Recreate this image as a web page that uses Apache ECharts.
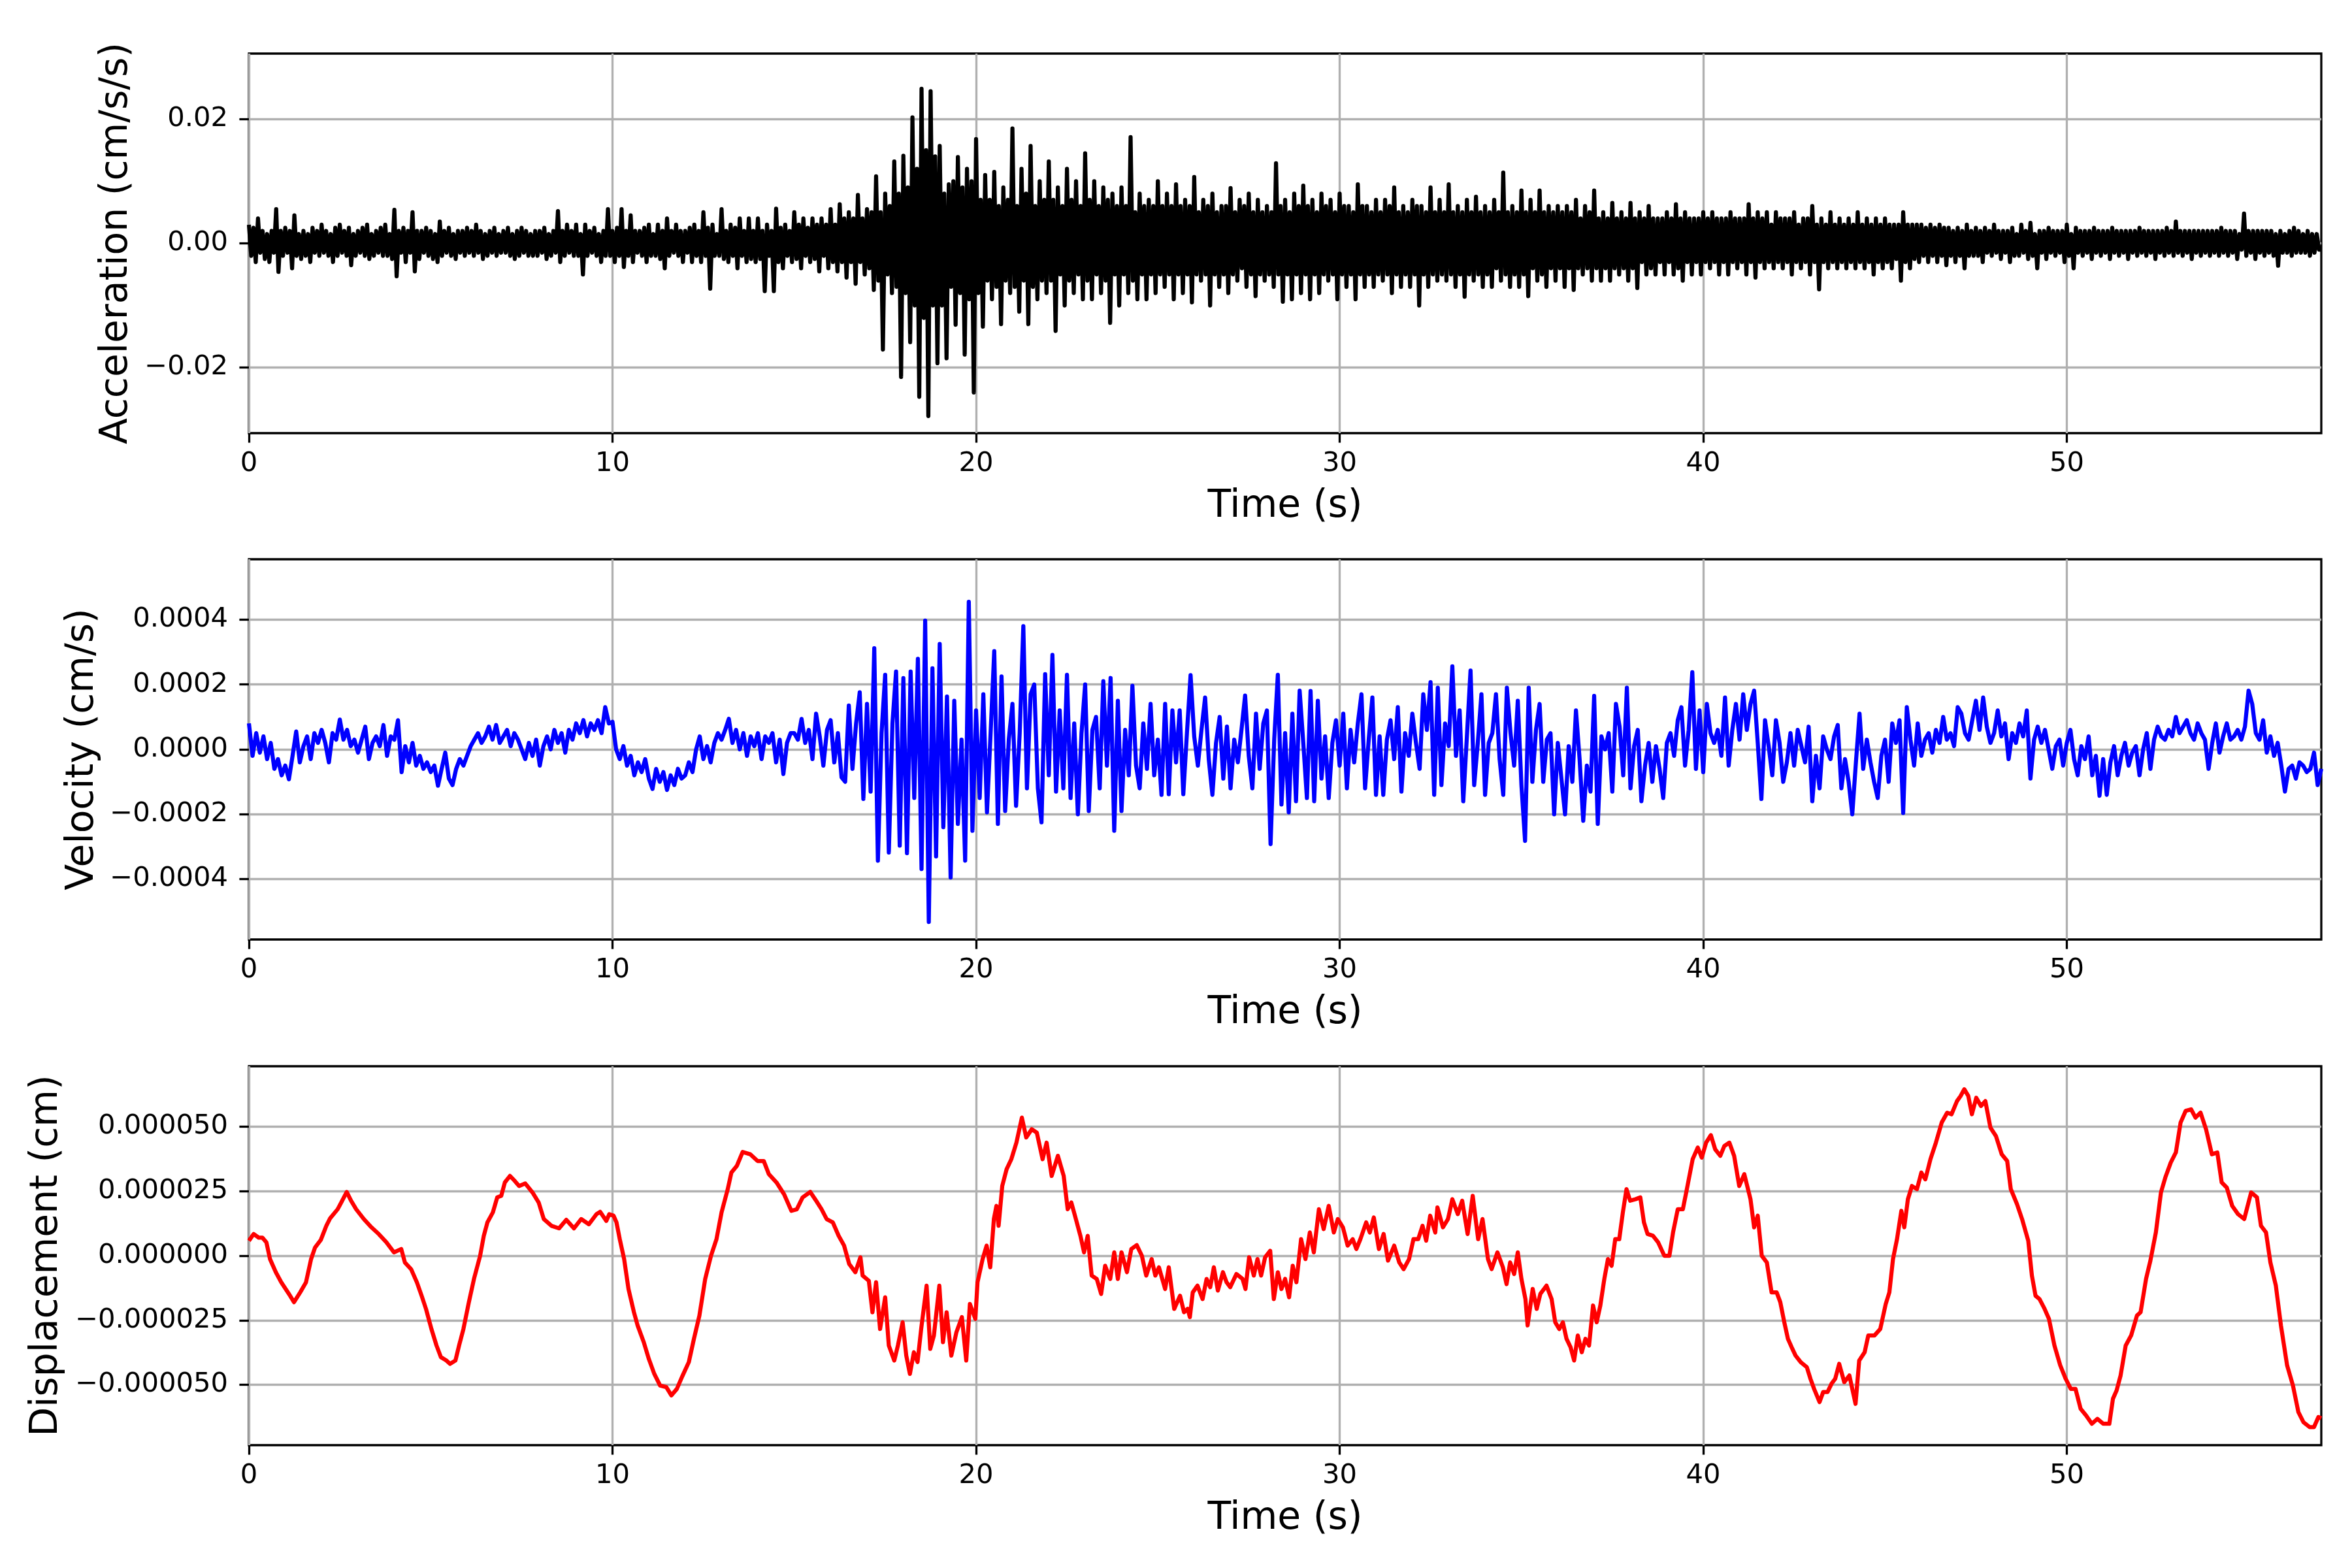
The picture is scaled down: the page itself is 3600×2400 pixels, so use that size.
<!DOCTYPE html>
<html><head><meta charset="utf-8">
<script src="https://cdn.jsdelivr.net/npm/echarts@6/dist/echarts.min.js"></script>
<style>html,body{margin:0;padding:0;background:#fff}#c{width:3600px;height:2400px}</style>
</head><body><div id="c"></div>
<script>
const timeTicks = [0, 10, 20, 30, 40, 50];
const accTicks = [-0.02, 0, 0.02];
const velTicks = [-0.0004, -0.0002, 0, 0.0002, 0.0004];
const dispTicks = [-0.00005, -0.000025, 0, 0.000025, 0.00005];

// acceleration (cm/s/s), one sample every 0.0625 s from 0 s to 57 s (one line per second)
const accStep = 0.0625;
const acceleration = [
3e-3,-2e-3,2.5e-3,-3e-3,4e-3,-1.5e-3,2e-3,-2.5e-3,1.5e-3,-3e-3,2e-3,-1.5e-3,5.5e-3,-4.6e-3,2e-3,-2e-3,
2.5e-3,-1.5e-3,2e-3,-4e-3,4.5e-3,-2e-3,1.5e-3,-2.5e-3,2e-3,-2e-3,1.5e-3,-3e-3,2.5e-3,-1.5e-3,2e-3,-2e-3,
3e-3,-1.5e-3,2e-3,-2e-3,1.5e-3,-3e-3,2.5e-3,-2e-3,3e-3,-1.5e-3,2e-3,-2e-3,2.5e-3,-3.5e-3,1.5e-3,-2e-3,
2e-3,-1.5e-3,2.5e-3,-2e-3,3e-3,-2.5e-3,1.5e-3,-2e-3,2e-3,-1.5e-3,2.5e-3,-2e-3,3e-3,-2e-3,1.5e-3,-2.5e-3,
5.4e-3,-5.3e-3,2e-3,-1.5e-3,2.5e-3,-3e-3,2e-3,-1.5e-3,5e-3,-4.5e-3,2e-3,-2.5e-3,2e-3,-1.5e-3,2.5e-3,-2e-3,
2e-3,-2.5e-3,1.5e-3,-3e-3,3.5e-3,-2e-3,2e-3,-1.5e-3,2.5e-3,-2e-3,1.5e-3,-2.5e-3,2e-3,-1.5e-3,2e-3,-2e-3,
2.5e-3,-1.5e-3,2e-3,-2e-3,3e-3,-1.5e-3,2e-3,-2.5e-3,1.5e-3,-2e-3,2e-3,-1.5e-3,2.5e-3,-2e-3,1.5e-3,-1.5e-3,
2e-3,-1.5e-3,2.5e-3,-2e-3,1.5e-3,-2.5e-3,2e-3,-2e-3,2.5e-3,-1.5e-3,2e-3,-2e-3,1.5e-3,-2e-3,2e-3,-2e-3,
2e-3,-1.5e-3,2.5e-3,-2.5e-3,1.5e-3,-2e-3,2e-3,-1.5e-3,5.2e-3,-3e-3,2e-3,-2e-3,3e-3,-1.5e-3,2e-3,-2e-3,
3e-3,-2e-3,1.5e-3,-5e-3,3e-3,-2e-3,2e-3,-1.5e-3,2.5e-3,-2e-3,1.5e-3,-3e-3,2e-3,-2e-3,5.5e-3,-2e-3,
2e-3,-3e-3,2.5e-3,-2e-3,5.5e-3,-3.8e-3,2e-3,-2e-3,4.5e-3,-3e-3,2e-3,-1.5e-3,2e-3,-2e-3,2.5e-3,-3e-3,
3e-3,-2e-3,1.5e-3,-2e-3,3e-3,-2.5e-3,2e-3,-4e-3,4e-3,-2e-3,2e-3,-1.5e-3,3e-3,-2e-3,2e-3,-3e-3,
2e-3,-1.5e-3,2.5e-3,-3e-3,3e-3,-2e-3,2e-3,-3e-3,5e-3,-2e-3,2.5e-3,-7.3e-3,3e-3,-2e-3,1.5e-3,-2e-3,
5.5e-3,-2.5e-3,2e-3,-3e-3,3e-3,-2e-3,2.5e-3,-4e-3,4e-3,-2e-3,2e-3,-3e-3,4e-3,-2.5e-3,2e-3,-3e-3,
4e-3,-2.5e-3,2e-3,-7.7e-3,3e-3,-2e-3,2e-3,-7.7e-3,5.6e-3,-3e-3,2.5e-3,-4e-3,3e-3,-2e-3,2e-3,-3e-3,
5e-3,-2.5e-3,3e-3,-4e-3,4e-3,-2e-3,2.5e-3,-3e-3,4e-3,-2.5e-3,3e-3,-4.5e-3,4e-3,-2e-3,3e-3,-4e-3,
5.5e-3,-3e-3,3e-3,-4.5e-3,6.3e-3,-3e-3,4e-3,-5.5e-3,5e-3,-3e-3,4e-3,-6.5e-3,7.8e-3,-3e-3,4e-3,-5e-3,
5.5e-3,-4e-3,5e-3,-7.5e-3,10.8e-3,-6e-3,5e-3,-17.1e-3,8e-3,-5e-3,6e-3,-8e-3,13.2e-3,-7e-3,8e-3,-21.5e-3,
14.1e-3,-8e-3,9e-3,-15.9e-3,20.3e-3,-10e-3,12e-3,-24.7e-3,24.9e-3,-12e-3,15e-3,-27.8e-3,24.5e-3,-10e-3,14e-3,-19.3e-3,
15.7e-3,-10e-3,8e-3,-18.5e-3,9.5e-3,-7e-3,10e-3,-13.1e-3,13.9e-3,-8e-3,9e-3,-17.9e-3,12e-3,-9e-3,10e-3,-24e-3,
16.8e-3,-8e-3,7e-3,-13.4e-3,11e-3,-6e-3,7e-3,-9e-3,11.5e-3,-7e-3,6e-3,-13e-3,9e-3,-6e-3,7e-3,-8e-3,
18.5e-3,-7e-3,6e-3,-11e-3,12e-3,-6e-3,8e-3,-13e-3,15.7e-3,-7e-3,6e-3,-9e-3,10e-3,-6e-3,7e-3,-8e-3,
13.2e-3,-6e-3,7e-3,-14.1e-3,9e-3,-5e-3,6e-3,-10e-3,12e-3,-6e-3,7e-3,-8e-3,10e-3,-5e-3,6e-3,-9e-3,
14.5e-3,-6e-3,7e-3,-9e-3,10e-3,-5e-3,6e-3,-8e-3,9e-3,-6e-3,7e-3,-12.8e-3,8e-3,-5e-3,6e-3,-10e-3,
9e-3,-5e-3,6e-3,-8e-3,17.1e-3,-6e-3,5e-3,-9e-3,8e-3,-5e-3,6e-3,-9e-3,7e-3,-5e-3,6e-3,-8e-3,
10e-3,-5e-3,6e-3,-7e-3,8e-3,-5e-3,6e-3,-9e-3,9.5e-3,-5e-3,6e-3,-8e-3,7e-3,-5e-3,6e-3,-9.5e-3,
10.7e-3,-5e-3,5e-3,-6e-3,7e-3,-5e-3,6e-3,-10e-3,8e-3,-5e-3,5e-3,-7e-3,6e-3,-5e-3,6e-3,-8e-3,
8.9e-3,-5e-3,5e-3,-6e-3,7e-3,-4e-3,6e-3,-7e-3,8e-3,-5e-3,5e-3,-8.5e-3,7e-3,-5e-3,5e-3,-6e-3,
6e-3,-5e-3,5e-3,-7e-3,12.9e-3,-5e-3,6e-3,-9.4e-3,7e-3,-5e-3,5e-3,-9e-3,8e-3,-5e-3,6e-3,-8e-3,
9.3e-3,-5e-3,6e-3,-9e-3,7e-3,-5e-3,5e-3,-8e-3,8e-3,-5e-3,6e-3,-6e-3,7e-3,-5e-3,5e-3,-9e-3,
8e-3,-5e-3,6e-3,-7e-3,6e-3,-5e-3,5e-3,-9e-3,9.5e-3,-5e-3,6e-3,-7e-3,6e-3,-5e-3,5e-3,-7e-3,
7e-3,-5e-3,5e-3,-6e-3,7e-3,-5e-3,6e-3,-8e-3,9e-3,-5e-3,5e-3,-7e-3,6e-3,-5e-3,5e-3,-7e-3,
7e-3,-5e-3,6e-3,-10e-3,6e-3,-5e-3,5e-3,-7e-3,9e-3,-5e-3,5e-3,-6e-3,7e-3,-5e-3,5e-3,-6e-3,
9.5e-3,-5e-3,5e-3,-7e-3,6e-3,-5e-3,5e-3,-8.6e-3,7e-3,-5e-3,5e-3,-6e-3,7.5e-3,-5e-3,5e-3,-7e-3,
6e-3,-5e-3,5e-3,-7e-3,7e-3,-4e-3,5e-3,-6e-3,11.4e-3,-5e-3,5e-3,-7e-3,6e-3,-5e-3,5e-3,-7e-3,
8.5e-3,-5e-3,5e-3,-8.5e-3,7e-3,-4e-3,5e-3,-6e-3,8.5e-3,-5e-3,5e-3,-7e-3,6e-3,-4e-3,5e-3,-6e-3,
6e-3,-4e-3,5e-3,-7e-3,6e-3,-4e-3,5e-3,-7.5e-3,7e-3,-4e-3,4e-3,-5e-3,6e-3,-4e-3,5e-3,-6e-3,
8.5e-3,-4e-3,4e-3,-6e-3,5e-3,-4e-3,4e-3,-6e-3,6.5e-3,-4e-3,4e-3,-5e-3,5e-3,-4e-3,4e-3,-6e-3,
6.5e-3,-4e-3,4e-3,-7.2e-3,5e-3,-3e-3,4e-3,-5e-3,6e-3,-4e-3,4e-3,-5e-3,4e-3,-3e-3,4e-3,-5e-3,
5e-3,-3e-3,4e-3,-5e-3,6.3e-3,-4e-3,4e-3,-6e-3,5e-3,-3e-3,4e-3,-5e-3,4e-3,-3e-3,4e-3,-5e-3,
5e-3,-3e-3,4e-3,-4e-3,5e-3,-3e-3,4e-3,-5e-3,4e-3,-3e-3,4e-3,-5e-3,5e-3,-3e-3,4e-3,-4e-3,
4e-3,-3e-3,4e-3,-5e-3,6.3e-3,-3e-3,4e-3,-5.5e-3,5e-3,-3e-3,4e-3,-4e-3,5e-3,-3e-3,3e-3,-4e-3,
5e-3,-3e-3,4e-3,-4e-3,4e-3,-3e-3,4e-3,-5e-3,5e-3,-3e-3,3e-3,-4e-3,4e-3,-3e-3,4e-3,-5e-3,
6e-3,-3e-3,3e-3,-7.4e-3,4e-3,-3e-3,3e-3,-4e-3,5e-3,-3e-3,3e-3,-4e-3,4e-3,-3e-3,3e-3,-4e-3,
4e-3,-3e-3,3e-3,-4e-3,5e-3,-3e-3,3e-3,-4e-3,4e-3,-3e-3,3e-3,-5e-3,4e-3,-3e-3,3e-3,-4e-3,
4e-3,-3e-3,3e-3,-4e-3,3e-3,-2.5e-3,3e-3,-6e-3,5e-3,-3e-3,3e-3,-4e-3,3e-3,-2.5e-3,3e-3,-3e-3,
3e-3,-2e-3,2.5e-3,-3e-3,3e-3,-2e-3,2.5e-3,-3e-3,3e-3,-2e-3,2.5e-3,-3.5e-3,2.5e-3,-2e-3,2e-3,-3e-3,
2.5e-3,-2e-3,2e-3,-4e-3,3e-3,-2e-3,2e-3,-2e-3,2.5e-3,-2e-3,2e-3,-3e-3,2.5e-3,-1.5e-3,2e-3,-2e-3,
3e-3,-1.5e-3,2e-3,-2.5e-3,2e-3,-1.5e-3,2e-3,-3e-3,2.5e-3,-2e-3,1.5e-3,-2e-3,3e-3,-1.5e-3,2e-3,-2.5e-3,
3.3e-3,-2e-3,1.5e-3,-4e-3,2e-3,-1.5e-3,2e-3,-2.5e-3,2.5e-3,-1.5e-3,2e-3,-2e-3,2e-3,-1.5e-3,2e-3,-3e-3,
3e-3,-2e-3,1.5e-3,-4e-3,2.5e-3,-1.5e-3,2e-3,-2e-3,2e-3,-1.5e-3,2e-3,-2.5e-3,2.5e-3,-1.5e-3,2e-3,-2e-3,
2e-3,-1.5e-3,2e-3,-2.5e-3,2.5e-3,-1.5e-3,2e-3,-2e-3,2e-3,-1.5e-3,2e-3,-2.5e-3,2e-3,-1.5e-3,2e-3,-2e-3,
2.5e-3,-1.5e-3,2e-3,-2e-3,2e-3,-1.5e-3,2e-3,-2.5e-3,2e-3,-1.5e-3,2e-3,-2e-3,2.5e-3,-1.5e-3,2e-3,-2e-3,
3.5e-3,-1.5e-3,2e-3,-2e-3,2e-3,-1.5e-3,2e-3,-2.5e-3,2e-3,-1.5e-3,2e-3,-2e-3,2e-3,-1.5e-3,2e-3,-2e-3,
2e-3,-1.5e-3,2e-3,-2e-3,2.5e-3,-1.5e-3,2e-3,-2e-3,2e-3,-1.5e-3,2e-3,-2.5e-3,1.5e-3,-1e-3,4.8e-3,-2e-3,
2e-3,-1.5e-3,2e-3,-2.5e-3,2e-3,-1.5e-3,2e-3,-2e-3,2e-3,-1.5e-3,2e-3,-2e-3,1.5e-3,-3.6e-3,2e-3,-1.5e-3,
1.5e-3,-1.5e-3,2e-3,-2e-3,2.5e-3,-1.5e-3,2e-3,-1.5e-3,1.5e-3,-1.5e-3,2e-3,-2e-3,1.5e-3,-1.5e-3,1.5e-3,-1e-3,
-1e-3
];

// velocity (cm/s), one sample every 0.1 s from 0 s to 57 s
const velStep = 0.1;
const velocity = [
.8e-4,-.2e-4,.5e-4,-.1e-4,.4e-4,-.3e-4,.2e-4,-.6e-4,-.3e-4,-.8e-4,
-.5e-4,-.92e-4,-.2e-4,.55e-4,-.4e-4,.1e-4,.4e-4,-.3e-4,.5e-4,.2e-4,
.6e-4,.2e-4,-.4e-4,.5e-4,.3e-4,.92e-4,.3e-4,.6e-4,.1e-4,.3e-4,
-.1e-4,.3e-4,.7e-4,-.3e-4,.2e-4,.4e-4,.1e-4,.75e-4,-.2e-4,.4e-4,
.3e-4,.9e-4,-.7e-4,.1e-4,-.4e-4,.2e-4,-.5e-4,-.2e-4,-.6e-4,-.4e-4,
-.7e-4,-.5e-4,-1.12e-4,-.6e-4,-.1e-4,-.9e-4,-1.1e-4,-.6e-4,-.3e-4,-.5e-4,
-.2e-4,.1e-4,.3e-4,.5e-4,.2e-4,.4e-4,.7e-4,.3e-4,.75e-4,.2e-4,
.4e-4,.6e-4,.1e-4,.5e-4,.3e-4,0,-.3e-4,.2e-4,-.2e-4,.3e-4,
-.5e-4,.1e-4,.4e-4,0,.6e-4,.2e-4,.5e-4,-.1e-4,.6e-4,.3e-4,
.8e-4,.5e-4,.9e-4,.4e-4,.8e-4,.6e-4,.9e-4,.5e-4,1.3e-4,.8e-4,
.85e-4,0,-.3e-4,.1e-4,-.5e-4,-.2e-4,-.8e-4,-.4e-4,-.7e-4,-.3e-4,
-.9e-4,-1.22e-4,-.6e-4,-1e-4,-.7e-4,-1.25e-4,-.8e-4,-1.1e-4,-.6e-4,-.9e-4,
-.8e-4,-.4e-4,-.7e-4,0,.4e-4,-.3e-4,.1e-4,-.4e-4,.2e-4,.5e-4,
.3e-4,.6e-4,.94e-4,.2e-4,.6e-4,0,.5e-4,-.2e-4,.4e-4,.1e-4,
.5e-4,-.3e-4,.4e-4,.2e-4,.5e-4,-.4e-4,.3e-4,-.76e-4,.2e-4,.5e-4,
.5e-4,.3e-4,.94e-4,.2e-4,.6e-4,-.3e-4,1.1e-4,.4e-4,-.5e-4,.6e-4,
.9e-4,-.4e-4,.5e-4,-.86e-4,-1e-4,1.35e-4,-.6e-4,.8e-4,1.76e-4,-1.53e-4,
1.4e-4,-1.3e-4,3.12e-4,-3.43e-4,.5e-4,2.3e-4,-3.18e-4,.8e-4,2.4e-4,-2.97e-4,
2.2e-4,-3.2e-4,2.4e-4,-1.5e-4,2.79e-4,-3.69e-4,3.97e-4,-5.32e-4,2.5e-4,-3.3e-4,
3.25e-4,-2.4e-4,1.63e-4,-3.95e-4,1.5e-4,-2.3e-4,.3e-4,-3.43e-4,4.55e-4,-2.51e-4,
1.2e-4,-1.5e-4,1.7e-4,-1.94e-4,.5e-4,3.03e-4,-2.3e-4,2.25e-4,-1.9e-4,.3e-4,
1.4e-4,-1.74e-4,.5e-4,3.8e-4,-1.2e-4,1.7e-4,2e-4,-1.2e-4,-2.25e-4,2.32e-4,
-.8e-4,2.91e-4,-1.3e-4,1.2e-4,-1.2e-4,2.3e-4,-1.5e-4,.8e-4,-2e-4,.5e-4,
2e-4,-1.9e-4,.6e-4,1e-4,-1.2e-4,2.1e-4,-.5e-4,2.2e-4,-2.51e-4,1.5e-4,
-1.9e-4,.6e-4,-.8e-4,1.96e-4,-.5e-4,-1.2e-4,.8e-4,-.6e-4,1.4e-4,-.8e-4,
.3e-4,-1.4e-4,1.4e-4,-1.38e-4,1.2e-4,-.4e-4,1.2e-4,-1.38e-4,.5e-4,2.29e-4,
.4e-4,-.5e-4,.6e-4,1.6e-4,-.3e-4,-1.4e-4,.2e-4,1e-4,-.9e-4,.7e-4,
-1.2e-4,.3e-4,-.4e-4,.6e-4,1.66e-4,-.2e-4,-1.2e-4,1.1e-4,-.6e-4,.8e-4,
1.2e-4,-2.92e-4,.3e-4,2.3e-4,-1.7e-4,.5e-4,-1.94e-4,1.1e-4,-1.6e-4,1.81e-4,
.2e-4,-1.5e-4,1.8e-4,-1.6e-4,1.5e-4,-.9e-4,.4e-4,-1.5e-4,.2e-4,.9e-4,
-.5e-4,1.1e-4,-1.2e-4,.6e-4,-.4e-4,.8e-4,1.7e-4,-1.2e-4,.3e-4,1.6e-4,
-1.4e-4,.4e-4,-1.4e-4,.3e-4,.9e-4,-.3e-4,1.3e-4,-1.3e-4,.5e-4,-.2e-4,
1.1e-4,.2e-4,-.6e-4,1.7e-4,.6e-4,2.07e-4,-1.4e-4,1.9e-4,-1.1e-4,.8e-4,
.1e-4,2.56e-4,-.2e-4,1.2e-4,-1.6e-4,.4e-4,2.43e-4,-1.1e-4,.2e-4,1.7e-4,
-1.4e-4,.2e-4,.5e-4,1.7e-4,-.3e-4,-1.4e-4,1.9e-4,.5e-4,-.5e-4,1.5e-4,
-1.1e-4,-2.82e-4,1.9e-4,-1e-4,.6e-4,1.4e-4,-1e-4,.3e-4,.5e-4,-2e-4,
.2e-4,-.9e-4,-2e-4,.1e-4,-1e-4,1.2e-4,-.3e-4,-2.2e-4,-.5e-4,-1.3e-4,
1.65e-4,-2.3e-4,.4e-4,0,.5e-4,-1.3e-4,1.4e-4,.7e-4,-.8e-4,1.9e-4,
-1.2e-4,.1e-4,.6e-4,-1.6e-4,-.5e-4,.2e-4,-1e-4,.1e-4,-.6e-4,-1.5e-4,
.2e-4,.5e-4,-.2e-4,.9e-4,1.3e-4,-.5e-4,.6e-4,2.38e-4,-.6e-4,1.2e-4,
-.7e-4,1.4e-4,.5e-4,.2e-4,.6e-4,-.2e-4,1.6e-4,-.5e-4,.6e-4,1.4e-4,
.3e-4,1.7e-4,.6e-4,1.4e-4,1.81e-4,.2e-4,-1.53e-4,.9e-4,.1e-4,-.8e-4,
.9e-4,.2e-4,-1e-4,-.4e-4,.5e-4,-.5e-4,.6e-4,.1e-4,-.4e-4,.7e-4,
-1.6e-4,-.2e-4,-1.2e-4,.4e-4,0,-.3e-4,.4e-4,.75e-4,-1.2e-4,-.3e-4,
-1e-4,-2e-4,-.4e-4,1.1e-4,-.6e-4,.3e-4,-.4e-4,-1e-4,-1.5e-4,-.2e-4,
.3e-4,-1e-4,.8e-4,.2e-4,.9e-4,-1.96e-4,1.3e-4,.3e-4,-.5e-4,.8e-4,
-.2e-4,.3e-4,.5e-4,-.1e-4,.6e-4,.2e-4,1e-4,.3e-4,.5e-4,.1e-4,
1.3e-4,1.1e-4,.5e-4,.3e-4,.9e-4,1.5e-4,.6e-4,1.6e-4,.7e-4,.2e-4,
.5e-4,1.2e-4,.4e-4,.8e-4,-.3e-4,.5e-4,.2e-4,.8e-4,.4e-4,1.2e-4,
-.9e-4,.3e-4,.7e-4,.2e-4,.6e-4,0,-.6e-4,.1e-4,.3e-4,-.5e-4,
.2e-4,.6e-4,-.3e-4,-.8e-4,.1e-4,-.3e-4,.4e-4,-.8e-4,-.2e-4,-1.43e-4,
-.3e-4,-1.4e-4,-.4e-4,.1e-4,-.8e-4,-.2e-4,.2e-4,-.5e-4,-.1e-4,.1e-4,
-.8e-4,0,.5e-4,-.6e-4,.3e-4,.7e-4,.4e-4,.3e-4,.6e-4,.4e-4,
1e-4,.5e-4,.7e-4,.9e-4,.5e-4,.3e-4,.8e-4,.5e-4,.3e-4,-.6e-4,
.2e-4,.8e-4,-.1e-4,.4e-4,.8e-4,.3e-4,.4e-4,.6e-4,.3e-4,.7e-4,
1.81e-4,1.4e-4,.5e-4,.3e-4,.9e-4,-.1e-4,.4e-4,-.2e-4,.2e-4,-.5e-4,
-1.3e-4,-.6e-4,-.5e-4,-.9e-4,-.4e-4,-.5e-4,-.7e-4,-.6e-4,-.1e-4,-1.1e-4,
-.6e-4
];

// displacement (cm) read at these times (s)
const dispTime = [
0,0.13,0.27,0.37,0.48,0.58,0.74,0.89,1.1,1.24,
1.41,1.57,1.71,1.82,1.98,2.13,2.23,2.44,2.54,2.69,
2.81,2.95,3.16,3.37,3.57,3.78,3.99,4.19,4.29,4.46,
4.62,4.75,4.87,5.02,5.16,5.28,5.43,5.53,5.68,5.78,
5.9,6.05,6.19,6.36,6.46,6.56,6.71,6.83,6.94,7.04,
7.18,7.31,7.43,7.6,7.8,7.97,8.11,8.32,8.53,8.73,
8.94,9.14,9.35,9.56,9.66,9.83,9.91,10.03,10.11,10.2,
10.32,10.44,10.59,10.69,10.86,11,11.15,11.31,11.48,11.62,
11.77,11.93,12.1,12.24,12.39,12.55,12.71,12.86,13,13.17,
13.27,13.42,13.58,13.79,13.99,14.16,14.3,14.51,14.72,14.92,
15.07,15.23,15.44,15.6,15.75,15.89,16.06,16.22,16.37,16.51,
16.68,16.82,16.88,17.05,17.15,17.25,17.36,17.5,17.6,17.75,
17.85,17.98,18.08,18.18,18.29,18.39,18.49,18.64,18.74,18.84,
18.99,19.09,19.19,19.32,19.46,19.61,19.73,19.83,19.98,20.04,
20.18,20.29,20.39,20.49,20.56,20.62,20.72,20.84,20.97,21.11,
21.26,21.38,21.53,21.67,21.83,21.94,22.08,22.25,22.41,22.52,
22.62,22.72,22.87,22.97,23.07,23.18,23.32,23.44,23.55,23.69,
23.8,23.9,24,24.15,24.27,24.42,24.56,24.68,24.83,24.93,
25.03,25.2,25.3,25.45,25.61,25.72,25.82,25.88,25.96,26.09,
26.23,26.34,26.44,26.54,26.65,26.79,26.89,26.99,27.16,27.33,
27.41,27.51,27.64,27.74,27.84,27.95,28.09,28.19,28.3,28.4,
28.5,28.61,28.71,28.81,28.94,29.06,29.18,29.29,29.43,29.56,
29.7,29.84,29.95,30.09,30.22,30.36,30.46,30.57,30.73,30.83,
30.94,31.08,31.21,31.33,31.5,31.64,31.76,31.91,32.03,32.16,
32.28,32.38,32.49,32.63,32.69,32.84,32.98,33.1,33.25,33.37,
33.52,33.66,33.81,33.93,34.08,34.18,34.34,34.49,34.59,34.69,
34.8,34.9,35,35.11,35.17,35.31,35.42,35.52,35.69,35.83,
35.93,36.04,36.14,36.24,36.35,36.45,36.55,36.66,36.76,36.86,
36.97,37.07,37.17,37.28,37.38,37.48,37.58,37.69,37.79,37.89,
37.99,38.14,38.27,38.37,38.47,38.62,38.76,38.93,39.07,39.17,
39.3,39.44,39.55,39.71,39.85,39.96,40.08,40.21,40.33,40.47,
40.58,40.72,40.85,40.99,41.13,41.3,41.4,41.5,41.61,41.75,
41.88,42.02,42.12,42.23,42.33,42.43,42.54,42.68,42.85,42.95,
43.05,43.2,43.3,43.42,43.53,43.63,43.74,43.88,44.02,44.19,
44.29,44.44,44.54,44.71,44.87,45.02,45.12,45.22,45.33,45.45,
45.53,45.63,45.74,45.88,46,46.11,46.25,46.4,46.56,46.71,
46.83,46.98,47.08,47.18,47.29,47.39,47.51,47.64,47.76,47.9,
48.05,48.21,48.36,48.46,48.63,48.77,48.94,49.04,49.14,49.25,
49.39,49.51,49.66,49.82,49.97,50.11,50.24,50.38,50.53,50.69,
50.84,51,51.17,51.27,51.37,51.48,51.62,51.77,51.93,52.03,
52.18,52.3,52.45,52.59,52.71,52.86,53,53.13,53.27,53.42,
53.54,53.68,53.83,53.99,54.14,54.26,54.4,54.55,54.71,54.88,
55.07,55.23,55.34,55.48,55.6,55.75,55.89,56.06,56.22,56.37,
56.51,56.68,56.8,56.92,57
];
const dispValue = [
5.8e-6,8.4e-6,7e-6,7e-6,5.2e-6,-1.3e-6,-6.4e-6,-10.3e-6,-14.8e-6,-18e-6,
-14.2e-6,-10.3e-6,-1.3e-6,3.2e-6,6.2e-6,11.6e-6,14.4e-6,18e-6,20.6e-6,24.7e-6,
21.3e-6,18e-6,14.2e-6,11e-6,8.4e-6,5.2e-6,1.3e-6,2.6e-6,-2.6e-6,-5.2e-6,
-10.3e-6,-15.5e-6,-20.6e-6,-28.4e-6,-34.8e-6,-39.3e-6,-40.6e-6,-41.9e-6,-40.6e-6,-34.8e-6,
-28.4e-6,-18e-6,-9e-6,0,7.7e-6,12.9e-6,16.8e-6,22.6e-6,23.2e-6,28.4e-6,
30.9e-6,29e-6,27e-6,28e-6,24.5e-6,20.6e-6,14.2e-6,11.6e-6,10.6e-6,13.9e-6,
10.6e-6,14.2e-6,12.2e-6,16.1e-6,17e-6,13.5e-6,16.1e-6,15.5e-6,12.9e-6,6.4e-6,
-1.3e-6,-12.9e-6,-21.9e-6,-27e-6,-33.5e-6,-40e-6,-45.8e-6,-50.3e-6,-50.9e-6,-54.1e-6,
-51.6e-6,-46.4e-6,-41.2e-6,-32.2e-6,-23.2e-6,-9e-6,0,6.4e-6,16.8e-6,25.8e-6,
32.2e-6,34.8e-6,40.2e-6,39.3e-6,36.7e-6,36.7e-6,31.6e-6,28.4e-6,23.8e-6,17.4e-6,
18e-6,22.6e-6,24.7e-6,21.3e-6,18e-6,14.2e-6,12.9e-6,7.7e-6,3.9e-6,-3.2e-6,
-6.4e-6,-0.6e-6,-7.7e-6,-9.7e-6,-21.9e-6,-10.3e-6,-28.4e-6,-16.1e-6,-34.8e-6,-40.6e-6,
-34.8e-6,-25.8e-6,-38.7e-6,-45.8e-6,-37.4e-6,-41.2e-6,-28.4e-6,-11.6e-6,-36.1e-6,-30.9e-6,
-11.6e-6,-33.5e-6,-21.9e-6,-38.7e-6,-29.6e-6,-23.8e-6,-40.6e-6,-18.7e-6,-24.5e-6,-10.3e-6,
-1.3e-6,3.9e-6,-4.5e-6,14.2e-6,19.3e-6,11.6e-6,27e-6,33.5e-6,37.4e-6,43.8e-6,
53.5e-6,45.8e-6,49e-6,47.7e-6,37.4e-6,43.8e-6,30.9e-6,38.7e-6,30.9e-6,18e-6,
20.6e-6,15.5e-6,7.7e-6,1.3e-6,7.7e-6,-7.7e-6,-9e-6,-14.8e-6,-3.9e-6,-9e-6,
1.3e-6,-9e-6,1.3e-6,-6.4e-6,2.6e-6,4.1e-6,0,-7.7e-6,-1.3e-6,-7.7e-6,
-4.5e-6,-12.9e-6,-4.5e-6,-20.6e-6,-15.5e-6,-21.9e-6,-20.6e-6,-23.8e-6,-14.2e-6,-11.6e-6,
-16.8e-6,-9e-6,-12.2e-6,-4.5e-6,-13.5e-6,-6.4e-6,-10.3e-6,-12.2e-6,-7.1e-6,-9e-6,
-12.9e-6,-0.6e-6,-7.7e-6,-1.3e-6,-7.7e-6,-0.6e-6,1.9e-6,-16.8e-6,-6.4e-6,-12.9e-6,
-9e-6,-16.1e-6,-3.9e-6,-10.3e-6,6.4e-6,-1.3e-6,9e-6,1.3e-6,18e-6,10.3e-6,
19.3e-6,9e-6,14.2e-6,11e-6,3.9e-6,6.4e-6,2.6e-6,6.4e-6,12.9e-6,9e-6,
14.8e-6,2.6e-6,8.4e-6,-1.9e-6,3.9e-6,-2.6e-6,-5.2e-6,-1.3e-6,6.4e-6,6.4e-6,
11.6e-6,5.8e-6,15.5e-6,9e-6,18.7e-6,11e-6,14.2e-6,21.9e-6,16.1e-6,21.3e-6,
8.4e-6,23.2e-6,6.4e-6,14.2e-6,-1.3e-6,-5.2e-6,1.3e-6,-4.5e-6,-11e-6,-2.6e-6,
-7.1e-6,1.3e-6,-9e-6,-16.8e-6,-27e-6,-12.9e-6,-20.6e-6,-14.8e-6,-11.6e-6,-16.8e-6,
-25.8e-6,-28.4e-6,-25.8e-6,-32.2e-6,-35.4e-6,-40.6e-6,-30.9e-6,-37.4e-6,-32.2e-6,-34.8e-6,
-19.3e-6,-25.8e-6,-19.3e-6,-9e-6,-1.3e-6,-3.9e-6,6.4e-6,6.4e-6,16.8e-6,25.8e-6,
21.3e-6,21.9e-6,22.6e-6,12.9e-6,8.4e-6,7.7e-6,5.2e-6,0,0,9e-6,
18e-6,18e-6,25.8e-6,37.4e-6,41.9e-6,38e-6,43.8e-6,46.7e-6,41.2e-6,38.7e-6,
42.5e-6,43.8e-6,38.7e-6,27e-6,31.6e-6,21.9e-6,11e-6,15.5e-6,0,-2.6e-6,
-14.2e-6,-14.2e-6,-18e-6,-25.8e-6,-32.2e-6,-35.4e-6,-38.7e-6,-41.2e-6,-43.2e-6,-47.7e-6,
-51.6e-6,-56.7e-6,-52.8e-6,-52.8e-6,-49.6e-6,-47.7e-6,-41.9e-6,-49e-6,-46.4e-6,-57.4e-6,
-40.6e-6,-37.4e-6,-30.9e-6,-30.9e-6,-28.4e-6,-18.7e-6,-14.2e-6,-1.3e-6,6.4e-6,17.4e-6,
11e-6,21.9e-6,27e-6,25.8e-6,32.2e-6,29.6e-6,37.4e-6,43.8e-6,51.6e-6,55.4e-6,
54.8e-6,59.9e-6,61.9e-6,64.5e-6,61.9e-6,54.8e-6,61.2e-6,58e-6,59.9e-6,49.6e-6,
46.4e-6,39.3e-6,36.7e-6,25.8e-6,20e-6,14.2e-6,5.8e-6,-7.7e-6,-15.5e-6,-16.8e-6,
-20.6e-6,-24.5e-6,-34.8e-6,-42.5e-6,-47.7e-6,-51.6e-6,-51.6e-6,-59.3e-6,-61.9e-6,-65.1e-6,
-63.2e-6,-65.1e-6,-65.1e-6,-55.4e-6,-52.2e-6,-46.4e-6,-34.8e-6,-30.9e-6,-23.2e-6,-21.9e-6,
-9e-6,-1.9e-6,9e-6,24.5e-6,30.3e-6,36.1e-6,40e-6,51.6e-6,56.1e-6,56.7e-6,
53.5e-6,55.4e-6,49e-6,39.3e-6,40e-6,28.4e-6,26.4e-6,19.3e-6,16.1e-6,14.2e-6,
24.5e-6,22.6e-6,11.6e-6,9e-6,-2.6e-6,-11.6e-6,-27e-6,-42.5e-6,-50.3e-6,-60.6e-6,
-64.5e-6,-66.4e-6,-66.4e-6,-62.5e-6,-63e-6
];

const FONT = 'DejaVu Sans';
const TICK_FS = 41.7, LABEL_FS = 58.3;

const accData = acceleration.map((v, i) => [i * accStep, v]);
const velData = velocity.map((v, i) => [i * velStep, v]);
const dispData = dispTime.map((t, i) => [t, dispValue[i]]);

function fmt(dec) { return v => Number(v).toFixed(dec).replace('-', '\u2212'); }

function makeX(gi) {
  return {
    type: 'value', gridIndex: gi, min: 0, max: 57,
    name: 'Time (s)', nameLocation: 'middle', nameGap: 84,
    nameTextStyle: { fontFamily: FONT, fontSize: LABEL_FS, color: '#000', lineHeight: LABEL_FS },
    axisLine: { show: false, onZero: false },
    axisTick: { show: true, inside: false, length: 14.6, lineStyle: { color: '#000', width: 3.3 }, customValues: timeTicks },
    axisLabel: { customValues: timeTicks, fontFamily: FONT, fontSize: TICK_FS, color: '#000', margin: 26, lineHeight: TICK_FS, formatter: v => String(v) },
    splitLine: { show: true, lineStyle: { color: '#b0b0b0', width: 3.3 } }
  };
}
function makeY(gi, lim, ticks, dec, name, gap) {
  return {
    type: 'value', gridIndex: gi, min: -lim, max: lim,
    name: name, nameLocation: 'middle', nameGap: gap,
    nameTextStyle: { fontFamily: FONT, fontSize: LABEL_FS, color: '#000', lineHeight: LABEL_FS },
    axisLine: { show: false, onZero: false },
    axisTick: { show: true, inside: false, length: 14.6, lineStyle: { color: '#000', width: 3.3 }, customValues: ticks },
    axisLabel: { customValues: ticks, fontFamily: FONT, fontSize: TICK_FS, color: '#000', margin: 32, lineHeight: TICK_FS, formatter: fmt(dec) },
    splitLine: { show: true, lineStyle: { color: '#b0b0b0', width: 3.3 } }
  };
}
function makeSeries(gi, data, color) {
  return {
    type: 'line', xAxisIndex: gi, yAxisIndex: gi, data: data,
    showSymbol: false, symbol: 'none', silent: true, clip: true,
    lineStyle: { color: color, width: 6.25, join: 'round', cap: 'butt' },
    itemStyle: { color: color }, emphasis: { disabled: true }
  };
}
const gridBase = { left: 381, width: 3172, show: true, borderColor: '#000', borderWidth: 3.3, backgroundColor: 'rgba(0,0,0,0)', containLabel: false, outerBoundsMode: 'none' };

const chart = echarts.init(document.getElementById('c'), null, { renderer: 'canvas', width: 3600, height: 2400 });
chart.setOption({
  backgroundColor: '#fff',
  animation: false,
  grid: [
    Object.assign({ top: 82, height: 581 }, gridBase),
    Object.assign({ top: 856, height: 582 }, gridBase),
    Object.assign({ top: 1632, height: 580 }, gridBase)
  ],
  xAxis: [makeX(0), makeX(1), makeX(2)],
  yAxis: [
    makeY(0, 0.03056, accTicks, 2, 'Acceleration (cm/s/s)', 173),
    makeY(1, 0.000586, velTicks, 4, 'Velocity (cm/s)', 225),
    makeY(2, 0.0000734, dispTicks, 6, 'Displacement (cm)', 280)
  ],
  series: [
    makeSeries(0, accData, '#000000'),
    makeSeries(1, velData, '#0000ff'),
    makeSeries(2, dispData, '#ff0000')
  ]
});
</script>
</body></html>
